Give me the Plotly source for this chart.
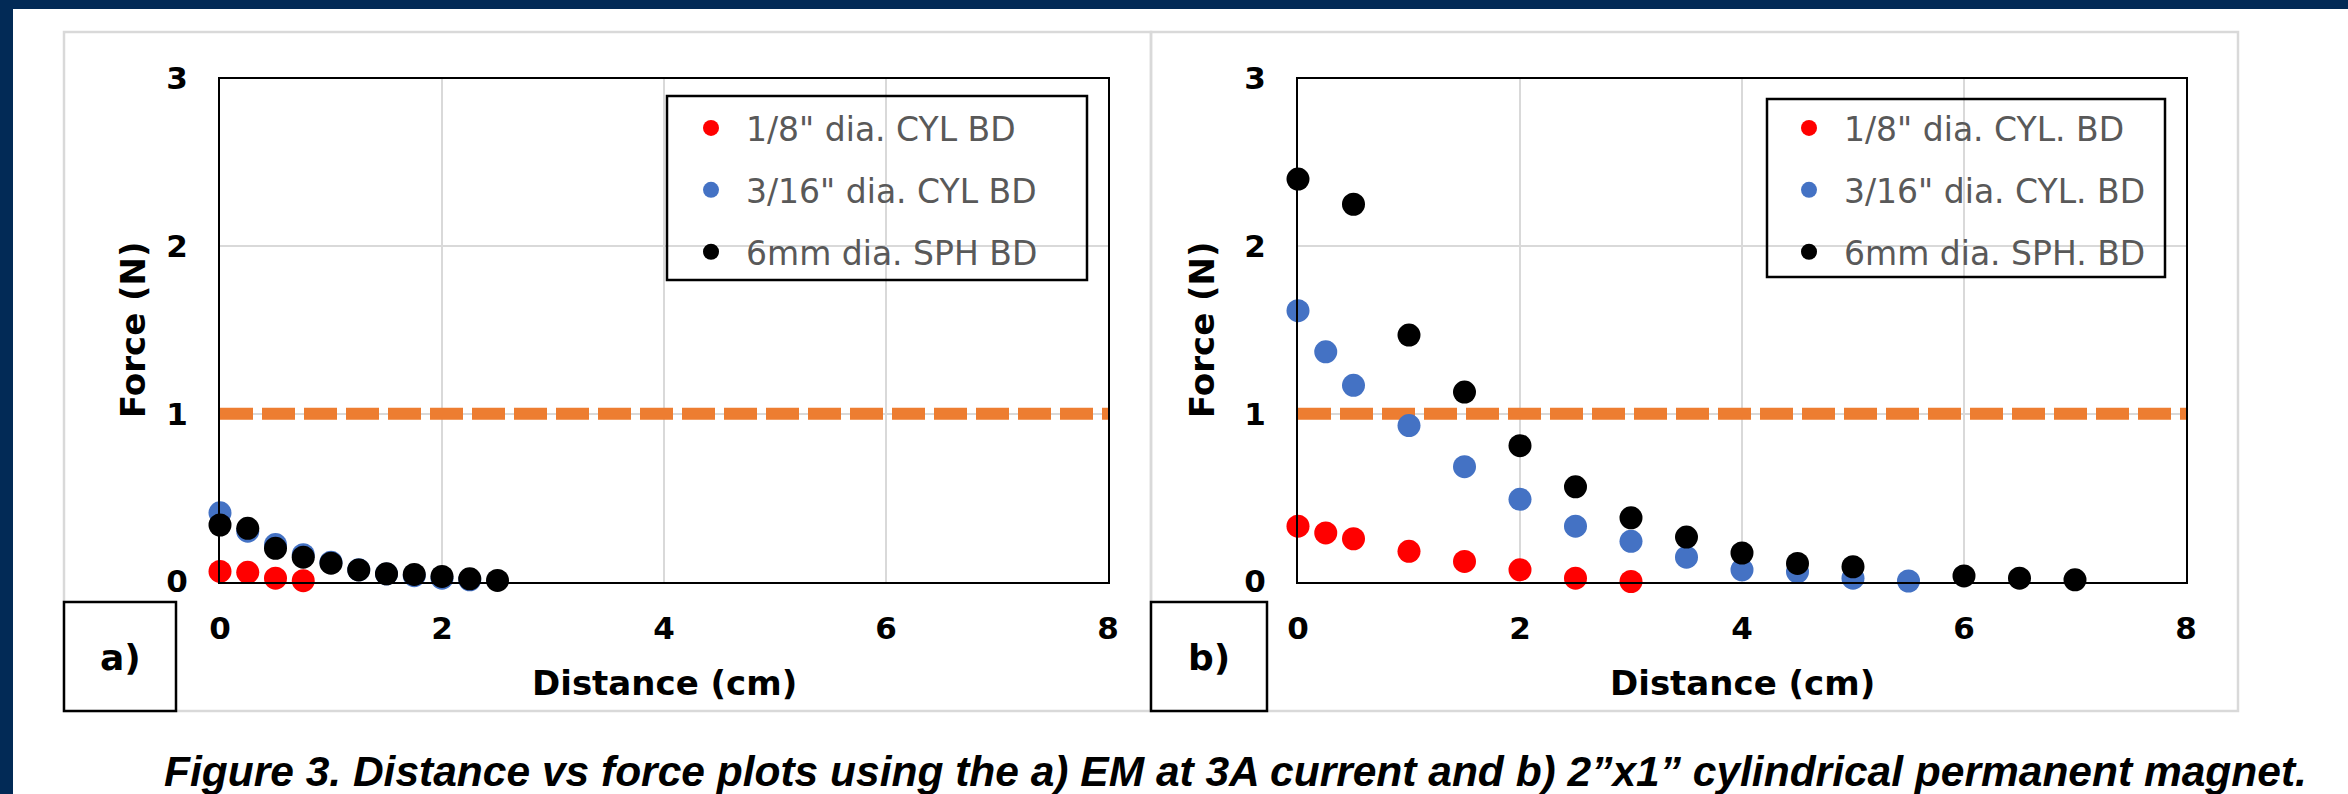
import plotly.graph_objects as go

W, H = 2348, 794

# ---------------- data ----------------
# Panel a) EM at 3A current
a_cyl18_dist = [0, 0.25, 0.5, 0.75]
a_cyl18_force = [0.06, 0.055, 0.02, 0.005]
a_cyl316_dist = [0, 0.25, 0.5, 0.75, 1.0, 1.25, 1.5, 1.75, 2.0, 2.25]
a_cyl316_force = [0.41, 0.30, 0.22, 0.16, 0.115, 0.07, 0.045, 0.035, 0.02, 0.01]
a_sph6_dist = [0, 0.25, 0.5, 0.75, 1.0, 1.25, 1.5, 1.75, 2.0, 2.25, 2.5]
a_sph6_force = [0.337, 0.317, 0.198, 0.145, 0.109, 0.069, 0.046, 0.042, 0.030, 0.016, 0.006]

# Panel b) 2"x1" cylindrical permanent magnet
b_cyl18_dist = [0, 0.25, 0.5, 1, 1.5, 2, 2.5, 3]
b_cyl18_force = [0.33, 0.29, 0.255, 0.18, 0.12, 0.07, 0.02, 0.0]
b_cyl316_dist = [0, 0.25, 0.5, 1, 1.5, 2, 2.5, 3, 3.5, 4, 4.5, 5, 5.5]
b_cyl316_force = [1.615, 1.37, 1.17, 0.93, 0.685, 0.49, 0.33, 0.24, 0.145, 0.07, 0.058, 0.02, 0.003]
b_sph6_dist = [0, 0.5, 1, 1.5, 2, 2.5, 3, 3.5, 4, 4.5, 5, 6, 6.5, 7]
b_sph6_force = [2.40, 2.25, 1.47, 1.13, 0.81, 0.565, 0.38, 0.265, 0.17, 0.108, 0.088, 0.033, 0.02, 0.01]

threshold_dist = [0, 8]
threshold_force = [1, 1]

names_a = ['1/8" dia. CYL BD', '3/16" dia. CYL BD', '6mm dia. SPH BD']
names_b = ['1/8" dia. CYL. BD', '3/16" dia. CYL. BD', '6mm dia. SPH. BD']
x_ticks = [0, 2, 4, 6, 8]
y_ticks = [0, 1, 2, 3]
x_title = "Distance (cm)"
y_title = "Force (N)"
caption = "Figure 3. Distance vs force plots using the a) EM at 3A current and b) 2\u201dx1\u201d cylindrical permanent magnet."

# ---------------- style ----------------
colors = ["#FF0000", "#4472C4", "#000000"]
ORANGE = "#ED7D31"
NAVY = "#022A56"
GRID = "#D9D9D9"
MSIZE = 23
TICKFONT = dict(family="DejaVu Sans", size=31, color="black", weight="bold")
TITLEFONT = dict(family="DejaVu Sans", size=34, color="black", weight="bold")
LEGFONT = dict(family="DejaVu Sans", size=33, color="#595959")


def X(p):
    return p / W


def Y(p):
    return 1 - p / H


fig = go.Figure()

panels = [
    ("x", "y", "legend",
     [(a_cyl18_dist, a_cyl18_force), (a_cyl316_dist, a_cyl316_force), (a_sph6_dist, a_sph6_force)], names_a),
    ("x2", "y2", "legend2",
     [(b_cyl18_dist, b_cyl18_force), (b_cyl316_dist, b_cyl316_force), (b_sph6_dist, b_sph6_force)], names_b),
]

for xa, ya, leg, series, names in panels:
    fig.add_trace(go.Scatter(
        x=threshold_dist, y=threshold_force, mode="lines", xaxis=xa, yaxis=ya,
        line=dict(color=ORANGE, width=12, dash="33px,9px"), showlegend=False, hoverinfo="skip"))
    for i, ((dx, fy), nm) in enumerate(zip(series, names)):
        fig.add_trace(go.Scatter(
            x=dx, y=fy, mode="markers", name=nm, xaxis=xa, yaxis=ya, legend=leg,
            legendgroup=f"{leg}_{i}",
            marker=dict(color=colors[i], size=MSIZE, line=dict(width=0)),
            cliponaxis=False))

# geometry (pixels)
plot_a = (220, 1108)
plot_b = (1298, 2186)
plot_top, plot_bot = 78.5, 581.5

axis_common = dict(
    showgrid=True, gridcolor=GRID, gridwidth=2, zeroline=False,
    showline=True, linecolor="black", linewidth=2, mirror=True,
    ticks="", tickfont=TICKFONT, fixedrange=True, automargin=False,
)

fig.update_layout(
    xaxis=dict(domain=[X(plot_a[0]), X(plot_a[1])], range=[0, 8], tickvals=x_ticks,
               ticklabelstandoff=18, anchor="y", **axis_common),
    yaxis=dict(domain=[Y(plot_bot), Y(plot_top)], range=[0, 3], tickvals=y_ticks,
               ticklabelstandoff=24, anchor="x", **axis_common),
    xaxis2=dict(domain=[X(plot_b[0]), X(plot_b[1])], range=[0, 8], tickvals=x_ticks,
                ticklabelstandoff=18, anchor="y2", **axis_common),
    yaxis2=dict(domain=[Y(plot_bot), Y(plot_top)], range=[0, 3], tickvals=y_ticks,
                ticklabelstandoff=24, anchor="x2", **axis_common),
)

leg_common = dict(
    xanchor="left", yanchor="top", bgcolor="rgba(0,0,0,0)", borderwidth=0,
    font=LEGFONT, itemwidth=60, tracegroupgap=16, orientation="v",
    itemclick=False, itemdoubleclick=False,
)
fig.update_layout(
    legend=dict(x=X(676), y=Y(100), **leg_common),
    legend2=dict(x=X(1774), y=Y(100), **leg_common),
)

shapes = []
# navy frame
shapes.append(dict(type="rect", xref="paper", yref="paper", x0=0, x1=X(13), y0=0, y1=1,
                   fillcolor=NAVY, line=dict(width=0), layer="below"))
shapes.append(dict(type="rect", xref="paper", yref="paper", x0=0, x1=1, y0=Y(9), y1=1,
                   fillcolor=NAVY, line=dict(width=0), layer="below"))
# chart area borders
for x0, x1 in [(64, 1151), (1151, 2238)]:
    shapes.append(dict(type="rect", xref="paper", yref="paper", x0=X(x0), x1=X(x1), y0=Y(711), y1=Y(32),
                       line=dict(color=GRID, width=2.5), fillcolor="rgba(0,0,0,0)"))
# legend boxes
for x0, x1, y0, y1 in [(667, 1087, 96, 280), (1767, 2165, 99, 277)]:
    shapes.append(dict(type="rect", xref="paper", yref="paper", x0=X(x0), x1=X(x1), y0=Y(y1), y1=Y(y0),
                       line=dict(color="black", width=2.5), fillcolor="rgba(0,0,0,0)"))
# panel label boxes
for x0, x1 in [(64, 176), (1151, 1267)]:
    shapes.append(dict(type="rect", xref="paper", yref="paper", x0=X(x0), x1=X(x1), y0=Y(711), y1=Y(602),
                       line=dict(color="black", width=2.5), fillcolor="white"))

annotations = []
for cx, lab in [(120, "a)"), (1209, "b)")]:
    annotations.append(dict(xref="paper", yref="paper", x=X(cx), y=Y(657), text=lab, showarrow=False,
                            xanchor="center", yanchor="middle",
                            font=dict(family="DejaVu Sans", size=36, color="black", weight="bold")))
for (l, r), ytx in [(plot_a, 133), (plot_b, 1202)]:
    annotations.append(dict(xref="paper", yref="paper", x=X((l + r) / 2), y=Y(683), text=x_title,
                            showarrow=False, xanchor="center", yanchor="middle", font=TITLEFONT))
    annotations.append(dict(xref="paper", yref="paper", x=X(ytx), y=Y((plot_top + plot_bot) / 2),
                            text=y_title, textangle=-90, showarrow=False,
                            xanchor="center", yanchor="middle", font=TITLEFONT))
annotations.append(dict(xref="paper", yref="paper", x=X(1235), y=Y(771), text=caption, showarrow=False,
                        xanchor="center", yanchor="middle",
                        font=dict(family="Liberation Sans", size=42.5, color="black",
                                  weight="bold", style="italic")))

fig.update_layout(
    width=W, height=H, margin=dict(l=0, r=0, t=0, b=0, pad=0, autoexpand=False),
    paper_bgcolor="white", plot_bgcolor="rgba(0,0,0,0)",
    shapes=shapes, annotations=annotations, showlegend=True,
)

fig.write_html(
    "out.html",
    config={"displayModeBar": False},
    post_script="document.body.style.margin='0px';document.documentElement.style.overflow='hidden';",
)
